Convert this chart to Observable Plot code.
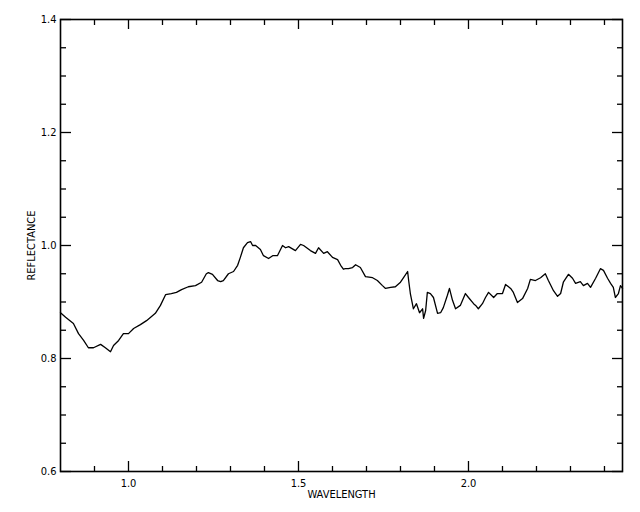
<!DOCTYPE html>
<html>
<head>
<meta charset="utf-8">
<script src="https://cdn.jsdelivr.net/npm/d3@7"></script>
<script src="https://cdn.jsdelivr.net/npm/@observablehq/plot@0.6"></script>
<style>
  body { margin: 0; background: #fff; }
  svg { font-family: "Liberation Sans Narrow", "DejaVu Sans Condensed", "Liberation Sans", sans-serif; }
</style>
</head>
<body>
<div id="chart"></div>
<script>
const wavelength = [0.800,0.815,0.838,0.853,0.868,0.882,0.897,0.918,0.932,0.947,0.956,0.971,0.985,1.000,1.015,1.035,1.053,1.079,1.094,1.109,1.126,1.141,1.156,1.176,1.197,1.215,1.229,1.235,1.247,1.262,1.271,1.279,1.294,1.309,1.321,1.329,1.338,1.350,1.359,1.365,1.374,1.388,1.397,1.412,1.424,1.438,1.453,1.462,1.471,1.491,1.506,1.515,1.535,1.550,1.559,1.574,1.585,1.600,1.615,1.624,1.632,1.638,1.647,1.659,1.668,1.682,1.697,1.718,1.732,1.747,1.756,1.771,1.785,1.800,1.809,1.821,1.824,1.829,1.838,1.847,1.856,1.865,1.868,1.874,1.879,1.888,1.897,1.909,1.918,1.926,1.938,1.944,1.953,1.962,1.976,1.991,2.000,2.015,2.021,2.029,2.041,2.050,2.059,2.074,2.085,2.100,2.109,2.124,2.132,2.144,2.159,2.174,2.182,2.197,2.212,2.226,2.235,2.250,2.262,2.271,2.279,2.294,2.306,2.315,2.329,2.338,2.350,2.359,2.374,2.388,2.397,2.409,2.418,2.426,2.432,2.441,2.447,2.453];
const reflectance = [0.881,0.873,0.862,0.844,0.832,0.819,0.819,0.825,0.819,0.812,0.823,0.832,0.844,0.844,0.853,0.860,0.867,0.880,0.894,0.913,0.915,0.917,0.922,0.927,0.929,0.935,0.950,0.952,0.949,0.938,0.936,0.938,0.950,0.954,0.965,0.979,0.996,1.005,1.007,1.000,1.000,0.993,0.982,0.977,0.982,0.982,1.000,0.996,0.998,0.991,1.002,1.000,0.991,0.986,0.996,0.986,0.989,0.979,0.975,0.965,0.958,0.959,0.959,0.961,0.966,0.961,0.945,0.943,0.938,0.929,0.924,0.926,0.927,0.935,0.943,0.954,0.938,0.915,0.888,0.897,0.881,0.888,0.871,0.885,0.917,0.915,0.908,0.880,0.881,0.890,0.912,0.924,0.903,0.888,0.894,0.915,0.908,0.897,0.894,0.888,0.897,0.908,0.917,0.908,0.915,0.915,0.931,0.924,0.917,0.899,0.906,0.924,0.940,0.938,0.943,0.950,0.938,0.920,0.910,0.915,0.935,0.949,0.942,0.933,0.936,0.929,0.933,0.926,0.942,0.959,0.956,0.942,0.933,0.926,0.908,0.915,0.929,0.924];

const xMajor = [1.0, 1.5, 2.0];
const xMinor = [0.9, 1.1, 1.2, 1.3, 1.4, 1.6, 1.7, 1.8, 1.9, 2.1, 2.2, 2.3, 2.4];
const yMajor = [0.6, 0.8, 1.0, 1.2, 1.4];
const yMinor = [0.65, 0.7, 0.75, 0.85, 0.9, 0.95, 1.05, 1.1, 1.15, 1.25, 1.3, 1.35];
const xTitle = "WAVELENGTH";
const yTitle = "REFLECTANCE";

const data = wavelength.map((w, i) => ({w, r: reflectance[i]}));
const blank = () => "";
const fmt = d3.format(".1f");

const chart = Plot.plot({
  width: 640,
  height: 512,
  marginLeft: 60,
  marginRight: 18,
  marginTop: 19,
  marginBottom: 41,
  style: {fontSize: "11px", color: "#000", background: "#fff"},
  x: {domain: [0.8, 2.453]},
  y: {domain: [0.6, 1.4]},
  marks: [
    Plot.axisX({anchor: "bottom", ticks: xMajor, tickSize: 0, tickPadding: 8, tickFormat: fmt, label: null}),
    Plot.axisY({anchor: "left", ticks: yMajor, tickSize: 0, tickPadding: 4, tickFormat: fmt, label: null}),
    Plot.axisX({anchor: "bottom", ticks: xMajor, tickSize: -10, tickFormat: blank, label: null, strokeWidth: 1.3}),
    Plot.axisX({anchor: "bottom", ticks: xMinor, tickSize: -5, tickFormat: blank, label: null, strokeWidth: 1.3}),
    Plot.axisX({anchor: "top", ticks: xMajor, tickSize: -9, tickFormat: blank, label: null, strokeWidth: 1.3}),
    Plot.axisX({anchor: "top", ticks: xMinor, tickSize: -5, tickFormat: blank, label: null, strokeWidth: 1.3}),
    Plot.axisY({anchor: "left", ticks: yMajor, tickSize: -11, tickFormat: blank, label: null, strokeWidth: 1.3}),
    Plot.axisY({anchor: "left", ticks: yMinor, tickSize: -6, tickFormat: blank, label: null, strokeWidth: 1.3}),
    Plot.axisY({anchor: "right", ticks: yMajor, tickSize: -11, tickFormat: blank, label: null, strokeWidth: 1.3}),
    Plot.axisY({anchor: "right", ticks: yMinor, tickSize: -6, tickFormat: blank, label: null, strokeWidth: 1.3}),
    Plot.frame({stroke: "#000", strokeWidth: 1.6}),
    Plot.line(data, {x: "w", y: "r", stroke: "#000", strokeWidth: 1.3}),
    Plot.text([xTitle], {frameAnchor: "bottom", dy: 26, text: d => d, fontSize: 11, textAnchor: "middle"}),
    Plot.text([yTitle], {frameAnchor: "left", dx: -29, rotate: -90, text: d => d, fontSize: 11, textAnchor: "middle"})
  ]
});
document.getElementById("chart").appendChild(chart);
</script>
</body>
</html>
